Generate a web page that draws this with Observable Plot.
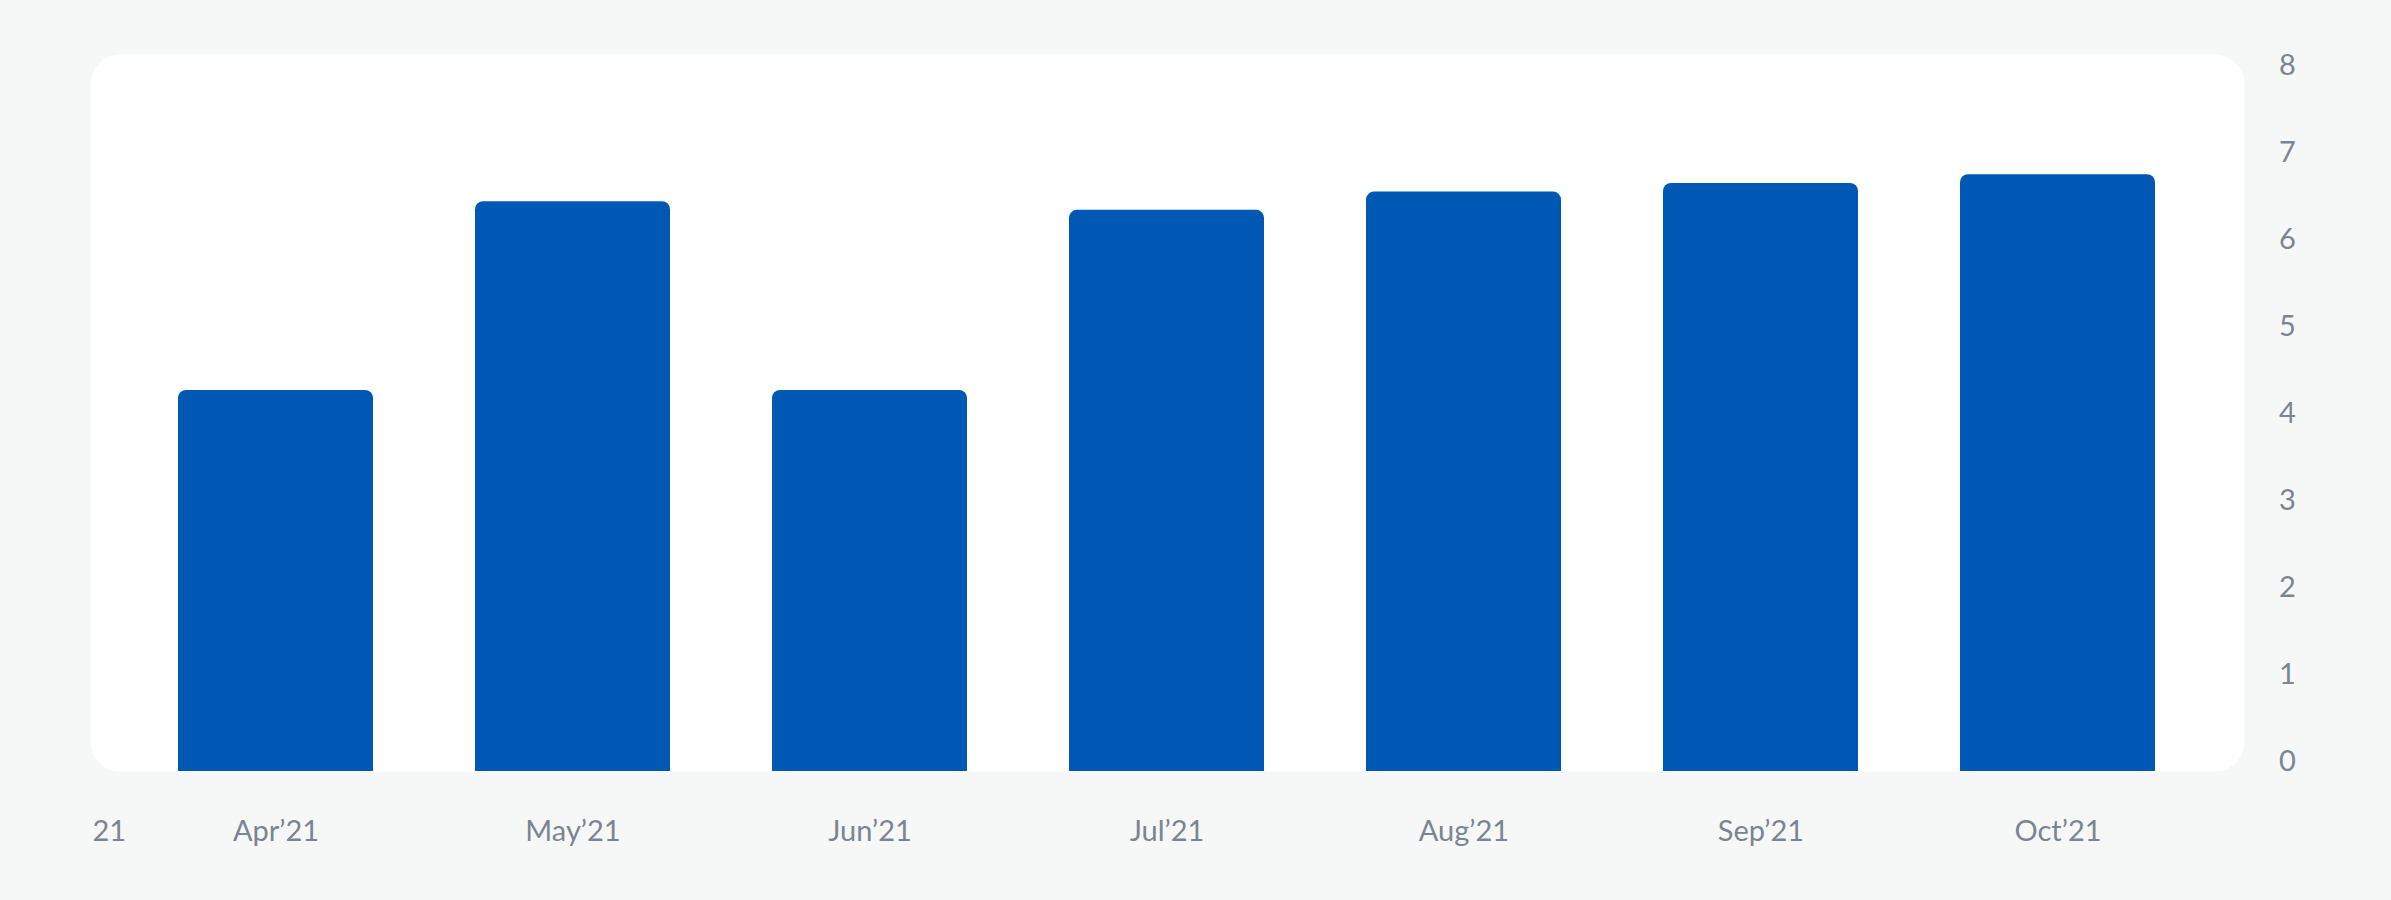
<!DOCTYPE html>
<html>
<head>
<meta charset="utf-8">
<script src="https://cdn.jsdelivr.net/npm/d3@7"></script>
<script src="https://cdn.jsdelivr.net/npm/@observablehq/plot@0.6"></script>
<style>
  html, body { margin: 0; padding: 0; background: #f6f8f8; }
  #chart { width: 2391px; height: 900px; }
</style>
</head>
<body>
<div id="chart"></div>
<script>
const months = ["Apr’21", "May’21", "Jun’21", "Jul’21", "Aug’21", "Sep’21", "Oct’21"];
const values = [4.38, 6.55, 4.38, 6.45, 6.66, 6.76, 6.86];
const yTicks = [0, 1, 2, 3, 4, 5, 6, 7, 8];
const leftoverLabel = ["21"];

const data = months.map((m, i) => ({month: m, value: values[i]}));
const labelColor = "#7b8591";
const font = "Lato, 'Open Sans', sans-serif";

const chart = Plot.plot({
  width: 2391,
  height: 900,
  marginTop: 54,
  marginBottom: 129,
  marginLeft: 90,
  marginRight: 147,
  insetTop: 21,
  style: {background: "#f6f8f8", fontFamily: font, fontSize: "29px", color: labelColor},
  x: {domain: months, paddingInner: 0.3434, paddingOuter: 0.293, label: null},
  y: {domain: [0, 8], label: null},
  marks: [
    Plot.frame({fill: "white", stroke: null, rx: 30}),
    Plot.barY(data, {x: "month", y: "value", fill: "#0058b5", ry1: 8}),
    Plot.axisY({anchor: "right", ticks: yTicks, tickSize: 0, tickPadding: 43, textAnchor: "middle", dy: -10, fill: labelColor, label: null}),
    Plot.axisX({anchor: "bottom", tickSize: 0, tickPadding: 49, fill: labelColor, label: null}),
    Plot.text(leftoverLabel, {text: d => d, frameAnchor: "bottom-left", textAnchor: "start", lineAnchor: "top", dx: 2, dy: 49, fill: labelColor})
  ]
});
document.getElementById("chart").appendChild(chart);
</script>
</body>
</html>
